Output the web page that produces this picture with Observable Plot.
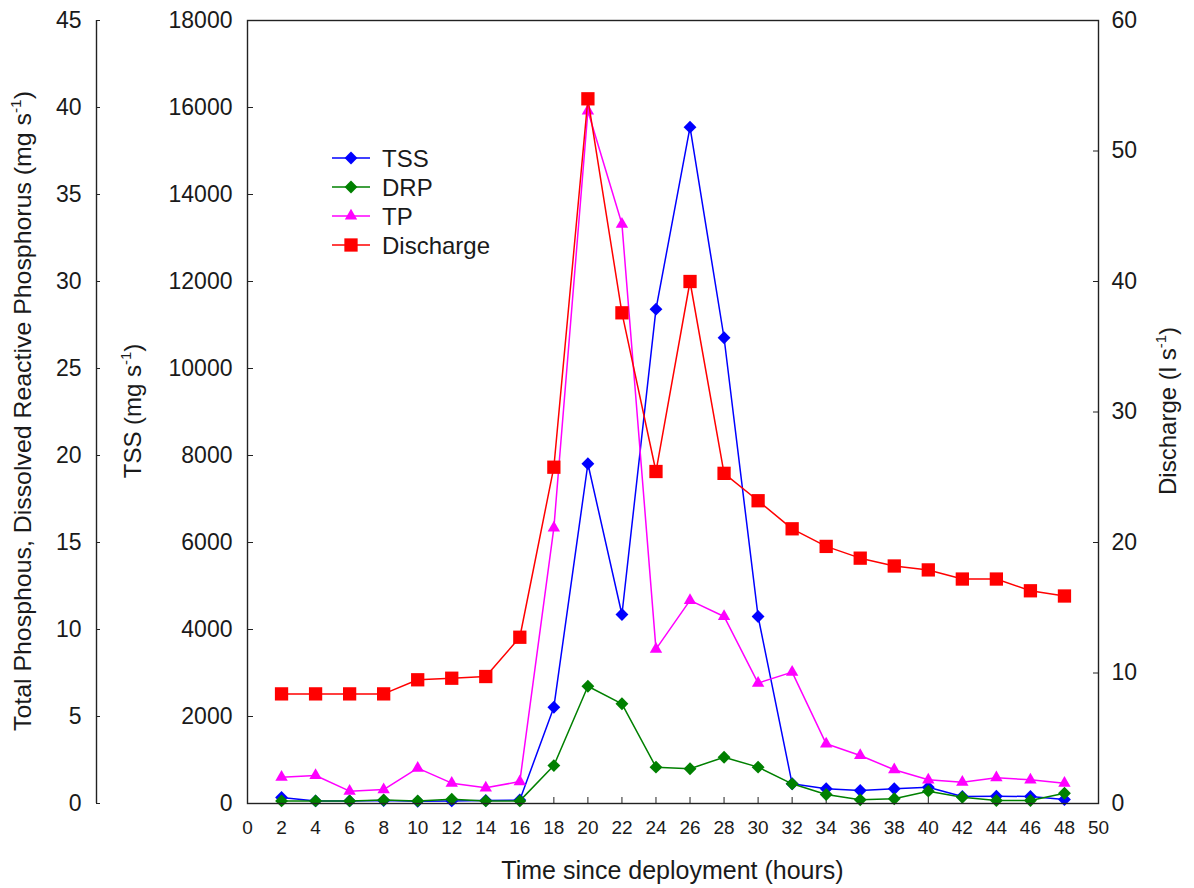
<!DOCTYPE html>
<html>
<head>
<meta charset="utf-8">
<script src="https://cdn.jsdelivr.net/npm/d3@7"></script>
<script src="https://cdn.jsdelivr.net/npm/@observablehq/plot@0.6"></script>
<style>
  body { margin: 0; background: #fff; }
  #chart { width: 1194px; height: 888px; }
</style>
</head>
<body>
<div id="chart"></div>
<script>
// ---- data ----
const hours = [2, 4, 6, 8, 10, 12, 14, 16, 18, 20, 22, 24, 26, 28, 30, 32, 34, 36, 38, 40, 42, 44, 46, 48];
const tss = [140, 60, 60, 70, 50, 60, 70, 80, 2214, 7810, 4345, 11364, 15548, 10707, 4299, 453, 338, 299, 338, 375, 161, 168, 161, 92];
const drp = [0.15, 0.15, 0.15, 0.2, 0.15, 0.25, 0.15, 0.15, 2.18, 6.74, 5.73, 2.09, 2.0, 2.66, 2.09, 1.13, 0.52, 0.21, 0.27, 0.71, 0.36, 0.17, 0.17, 0.59];
const tp = [1.51, 1.61, 0.71, 0.8, 2.03, 1.17, 0.9, 1.26, 15.84, 39.8, 33.3, 8.87, 11.67, 10.75, 6.92, 7.55, 3.43, 2.76, 1.94, 1.36, 1.22, 1.48, 1.36, 1.17];
const discharge = [8.4, 8.4, 8.4, 8.4, 9.48, 9.6, 9.73, 12.74, 25.77, 54.0, 37.6, 25.44, 40.0, 25.3, 23.2, 21.05, 19.7, 18.8, 18.2, 17.9, 17.2, 17.2, 16.3, 15.9];

const xTicks = d3.range(0, 51, 2);
const tssTicks = d3.range(0, 18001, 2000);
const pTicks = d3.range(0, 46, 5);
const qTicks = d3.range(0, 61, 10);

const seriesNames = ["TSS", "DRP", "TP", "Discharge"];
const seriesColors = ["#0000ff", "#008000", "#ff00ff", "#ff0000"];
const seriesSymbols = ["diamond2", "diamond2", "triangle", "square"];
const seriesR = [5.8, 5.8, 4.6, 7.5];

const xLabel = "Time since deployment (hours)";
const pLabel = "Total Phosphous, Dissolved Reactive Phosphorus (mg s";
const tssLabel = "TSS (mg s";
const qLabel = "Discharge (l s";

// ---- layout ----
const W = 1194, H = 888, mt = 20, mr = 96, mb = 85, ml = 247;
const pw = W - ml - mr, ph = H - mt - mb;
const pAxisShift = -151; // far-left phosphorus axis
const ink = "#222";

// secondary scales mapped onto the TSS scale
const P_K = 18000 / 45, Q_K = 18000 / 60;
const toRows = (vals, k) => hours.map((h, i) => ({x: h, y: vals[i] * k}));
const seriesData = [toRows(tss, 1), toRows(drp, P_K), toRows(tp, P_K), toRows(discharge, Q_K)];

const seriesMarks = seriesData.flatMap((d, i) => [
  Plot.line(d, {x: "x", y: "y", stroke: seriesColors[i], strokeWidth: 1.5}),
  Plot.dot(d, {x: "x", y: "y", symbol: seriesSymbols[i], fill: seriesColors[i], stroke: "none", r: seriesR[i]})
]);

const plot = Plot.plot({
  width: W, height: H,
  marginTop: mt, marginRight: mr, marginBottom: mb, marginLeft: ml,
  style: {fontFamily: "'Liberation Sans', Arial, sans-serif", color: "#1a1a1a", background: "#fff"},
  x: {domain: [0, 50]},
  y: {domain: [0, 18000]},
  marks: [
    // inward tick marks
    Plot.tickY(tssTicks, {y: d => d, insetRight: pw - 6, stroke: ink}),
    Plot.tickY(pTicks, {y: d => d * P_K, insetRight: pw - 4, dx: pAxisShift, stroke: ink}),
    Plot.tickY(qTicks, {y: d => d * Q_K, insetLeft: pw - 5, stroke: ink}),
    Plot.tickX(xTicks, {x: d => d, insetTop: ph - 6, stroke: ink}),
    // tick labels
    Plot.axisY(tssTicks, {anchor: "left", tickSize: 0, tickPadding: 15, fontSize: 23, label: null, tickFormat: d => String(d)}),
    Plot.axisY(pTicks.map(d => d * P_K), {anchor: "left", tickSize: 0, tickPadding: 15, dx: pAxisShift, fontSize: 23, label: null, tickFormat: d => String(Math.round(d / P_K))}),
    Plot.axisY(qTicks.map(d => d * Q_K), {anchor: "right", tickSize: 0, tickPadding: 13, fontSize: 23, label: null, tickFormat: d => String(Math.round(d / Q_K))}),
    Plot.axisX(xTicks, {anchor: "bottom", tickSize: 0, tickPadding: 17, fontSize: 19, label: null, tickFormat: d => String(d)}),
    ...seriesMarks,
    Plot.frame({stroke: ink, strokeWidth: 1.4}),
    Plot.ruleX([0], {dx: pAxisShift, stroke: ink, strokeWidth: 1.4})
  ]
});

document.getElementById("chart").appendChild(plot);

// ---- titles & legend ----
const svg = d3.select(plot);
const font = "'Liberation Sans', Arial, sans-serif";

function rotTitle(x, y, main, size, len) {
  const t = svg.append("text")
    .attr("transform", `translate(${x},${y}) rotate(-90)`)
    .attr("text-anchor", "middle")
    .attr("font-family", font)
    .attr("font-size", size)
    .attr("fill", "#1a1a1a");
  if (len) t.attr("textLength", len).attr("lengthAdjust", "spacingAndGlyphs");
  t.append("tspan").text(main);
  t.append("tspan").attr("font-size", size * 0.62).attr("dy", -size * 0.42).text("-1");
  t.append("tspan").attr("dy", size * 0.42).text(")");
}
rotTitle(31, 411, pLabel, 24, 640);
rotTitle(141, 411, tssLabel, 24);
rotTitle(1176, 411, qLabel, 24);

svg.append("text")
  .attr("x", ml + pw / 2).attr("y", 879)
  .attr("text-anchor", "middle")
  .attr("font-family", font).attr("font-size", 25).attr("fill", "#1a1a1a")
  .text(xLabel);

const legendX = 332, legendY = 158, legendStep = 29;
seriesNames.forEach((name, i) => {
  const y = legendY + i * legendStep;
  const g = svg.append("g");
  g.append("line").attr("x1", legendX).attr("x2", legendX + 38).attr("y1", y).attr("y2", y)
    .attr("stroke", seriesColors[i]).attr("stroke-width", 1.5);
  const symType = {diamond2: d3.symbolDiamond2, triangle: d3.symbolTriangle, square: d3.symbolSquare}[seriesSymbols[i]];
  g.append("path").attr("transform", `translate(${legendX + 19},${y})`)
    .attr("d", d3.symbol(symType, Math.PI * seriesR[i] * seriesR[i])())
    .attr("fill", seriesColors[i]);
  g.append("text").attr("x", legendX + 50).attr("y", y + 8.5)
    .attr("text-anchor", "start")
    .attr("font-family", font).attr("font-size", 24).attr("fill", "#1a1a1a")
    .text(name);
});
</script>
</body>
</html>
